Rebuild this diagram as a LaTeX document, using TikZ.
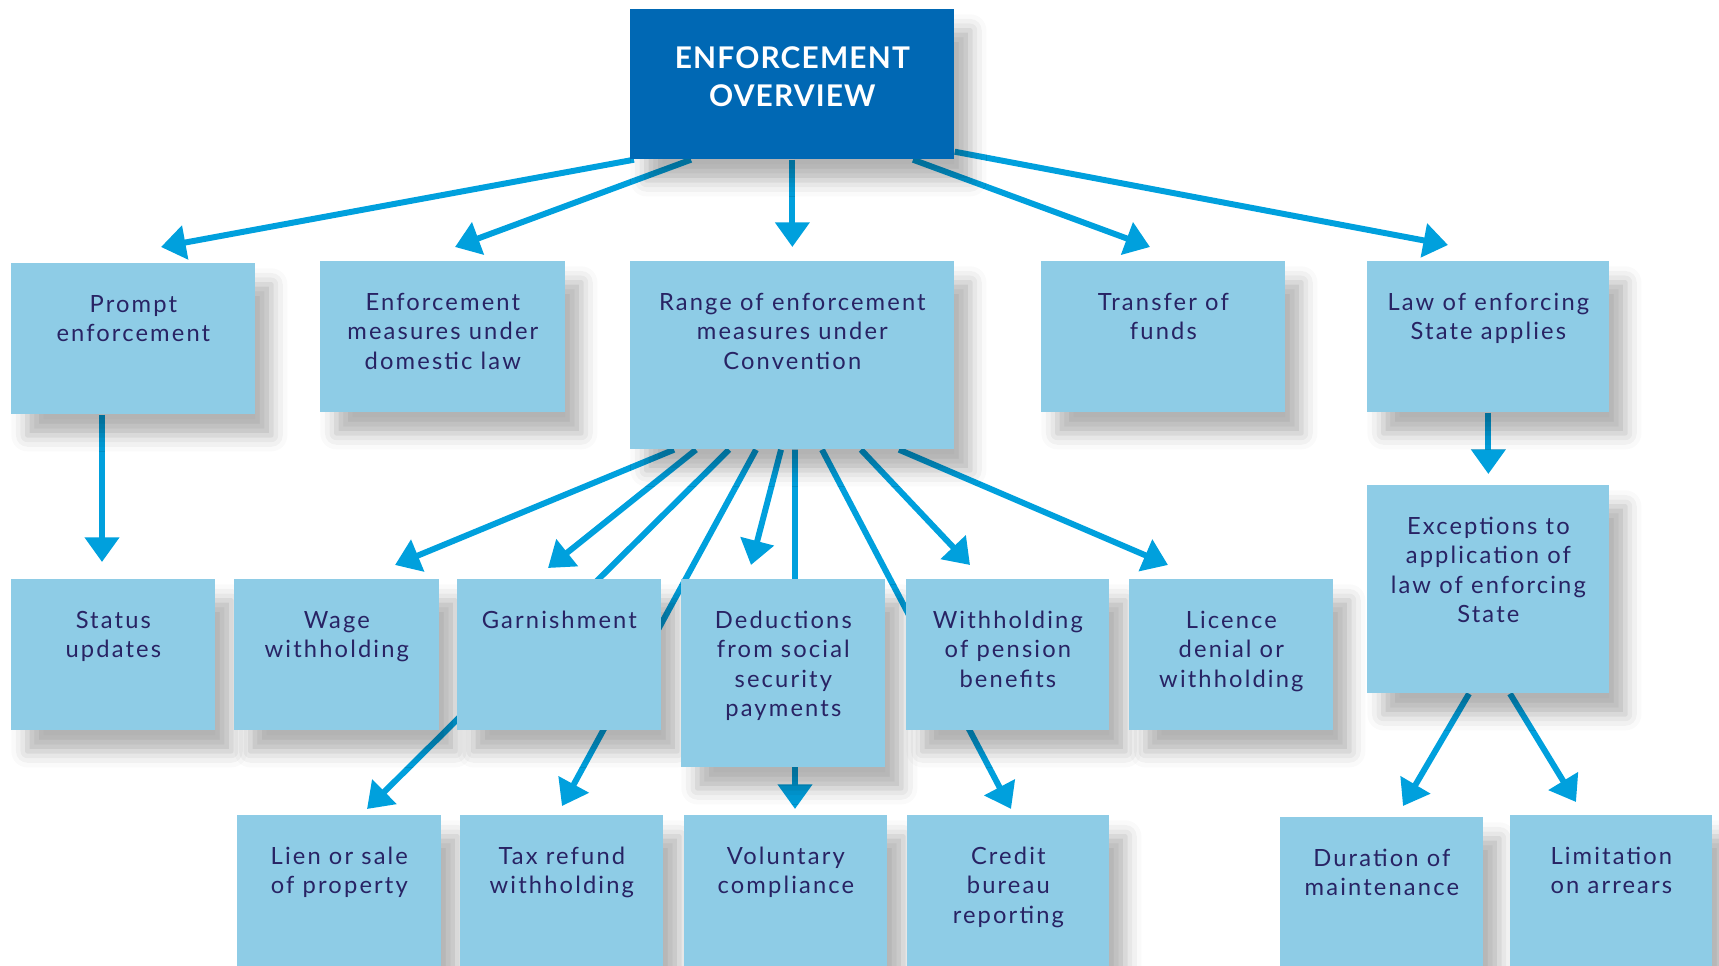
\documentclass[tikz,border=0pt]{standalone}
\usepackage{fontspec}
\setmainfont{Lato}
\newfontfamily\boxfont[LetterSpace=9]{Lato}
\newfontfamily\headfont[LetterSpace=4]{Lato}
\usetikzlibrary{arrows.meta, shadows.blur}
\usepackage{xcolor}
\definecolor{boxblue}{RGB}{142,204,230}
\definecolor{headblue}{RGB}{0,104,180}
\definecolor{arrowblue}{RGB}{0,160,221}
\definecolor{textnavy}{RGB}{40,35,100}
\pgfdeclarelayer{background}
\pgfsetlayers{background,main}
\newcommand{\boxtext}[3]{\parbox[t][#2][t]{#1}{\centering\rule{0pt}{0.98cm}#3}}
\newcommand{\headtext}[3]{\parbox[t][#2][t]{#1}{\centering\rule{0pt}{1.18cm}#3}}

\begin{document}
\begin{tikzpicture}[x=1cm, y=-1cm, >={Triangle[length=14pt,width=19pt]}]
    \tikzstyle{block}=[rectangle, fill=boxblue, anchor=north west, inner sep=0pt, text=textnavy,
        font=\boxfont\fontsize{13.5}{16.8}\selectfont,
        blur shadow={shadow xshift=0.32cm, shadow yshift=-0.42cm, shadow blur radius=0.32cm, shadow opacity=30}]
    \tikzstyle{head}=[block, fill=headblue, text=white, font=\headfont\bfseries\fontsize{17}{21.5}\selectfont]
    \tikzstyle{arrow}=[->, line width=3.4pt, draw=arrowblue]

    \useasboundingbox (0,0) rectangle (34.38,19.32);

    \node[head] (overview) at (12.60,0.18) {\headtext{6.48cm}{3.0cm}{ENFORCEMENT\\OVERVIEW}};

    % first row
    \node[block] (prompt) at (0.22,5.26) {\boxtext{4.88cm}{3.02cm}{Prompt\\enforcement}};
    \node[block] (domestic) at (6.40,5.22) {\boxtext{4.90cm}{3.02cm}{Enforcement\\measures under\\domestic law}};
    \node[block] (range) at (12.60,5.22) {\boxtext{6.48cm}{3.76cm}{Range of enforcement\\measures under\\Convention}};
    \node[block] (transfer) at (20.82,5.22) {\boxtext{4.88cm}{3.02cm}{Transfer of\\funds}};
    \node[block] (law) at (27.34,5.22) {\boxtext{4.84cm}{3.02cm}{Law of enforcing\\State applies}};

    % second row
    \node[block] (status) at (0.22,11.58) {\boxtext{4.08cm}{3.02cm}{Status\\updates}};
    \node[block] (wage) at (4.68,11.58) {\boxtext{4.10cm}{3.02cm}{Wage\\withholding}};
    \node[block] (garnish) at (9.14,11.58) {\boxtext{4.08cm}{3.02cm}{Garnishment}};
    \node[block] (deduct) at (13.62,11.58) {\boxtext{4.08cm}{3.76cm}{Deductions\\from social\\security\\payments}};
    \node[block] (pension) at (18.12,11.58) {\boxtext{4.06cm}{3.02cm}{Withholding\\of pension\\benefits}};
    \node[block] (licence) at (22.58,11.58) {\boxtext{4.08cm}{3.02cm}{Licence\\denial or\\withholding}};
    \node[block] (exceptions) at (27.34,9.70) {\boxtext{4.84cm}{4.16cm}{Exceptions to\\application of\\law of enforcing\\State}};

    % third row
    \node[block] (lien) at (4.74,16.30) {\boxtext{4.08cm}{3.3cm}{Lien or sale\\of property}};
    \node[block] (taxrefund) at (9.20,16.30) {\boxtext{4.06cm}{3.3cm}{Tax refund\\withholding}};
    \node[block] (voluntary) at (13.68,16.30) {\boxtext{4.06cm}{3.3cm}{Voluntary\\compliance}};
    \node[block] (credit) at (18.14,16.30) {\boxtext{4.04cm}{3.3cm}{Credit\\bureau\\reporting}};
    \node[block] (duration) at (25.60,16.34) {\boxtext{4.06cm}{3.3cm}{Duration of\\maintenance}};
    \node[block] (limitation) at (30.20,16.30) {\boxtext{4.04cm}{3.3cm}{Limitation\\on arrears}};

    \begin{pgfonlayer}{background}
    \draw[arrow] ([xshift=0.08cm]overview.south west) -- ([xshift=3.00cm,yshift=0.32cm]prompt.north west);
    \draw[arrow] ([xshift=1.22cm]overview.south west) -- ([xshift=2.70cm,yshift=0.28cm]domestic.north west);
    \draw[arrow, shorten >=0.28cm] (overview.south) -- (range.north);
    \draw[arrow] ([xshift=5.66cm]overview.south west) -- ([xshift=2.18cm,yshift=0.28cm]transfer.north west);
    \draw[arrow] ([yshift=0.16cm]overview.south east) -- ([xshift=1.62cm,yshift=0.32cm]law.north west);

    \foreach \s/\t/\dx/\dy in {0.88/wage/3.22/0.28, 1.32/garnish/1.82/0.22, 1.98/lien/2.60/0.12,
        2.52/taxrefund/2.04/0.18, 3.02/deduct/1.40/0.28, 3.30/voluntary/2.22/0.12,
        3.84/credit/2.08/0.12, 4.62/pension/1.28/0.28, 5.38/licence/0.78/0.28}
        \draw[arrow] ([xshift=\s cm]range.south west) -- ([xshift=\dx cm,yshift=\dy cm]\t.north west);

    \draw[arrow] ([xshift=1.82cm]prompt.south west) -- ([xshift=1.82cm,yshift=0.34cm]status.north west);
    \draw[arrow, shorten >=0.22cm] (law.south) -- (exceptions.north);
    \draw[arrow] ([xshift=2.04cm]exceptions.south west) -- ([xshift=2.46cm,yshift=0.22cm]duration.north west);
    \draw[arrow] ([xshift=2.86cm]exceptions.south west) -- ([xshift=1.32cm,yshift=0.26cm]limitation.north west);
    \end{pgfonlayer}
\end{tikzpicture}
\end{document}
